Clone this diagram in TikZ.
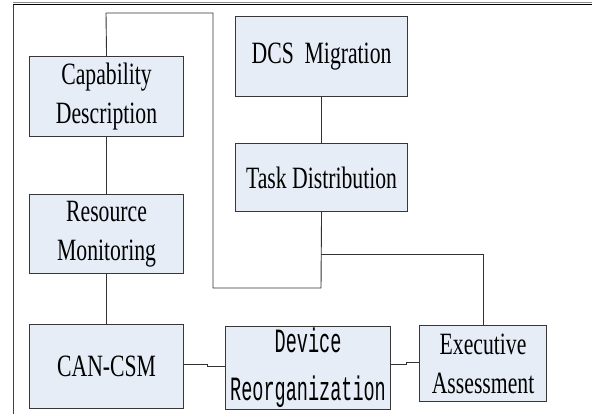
\documentclass[tikz,border=0pt]{standalone}
\usepackage{fontspec}
\setmainfont[FakeStretch=0.70]{Liberation Serif}
\newfontfamily\widemono[FakeStretch=0.545]{Liberation Mono}
\definecolor{boxfill}{RGB}{230,237,247}
\definecolor{boxline}{RGB}{55,55,55}
\definecolor{wire}{RGB}{50,50,50}
\begin{document}
\begin{tikzpicture}[x=1pt,y=-1pt,
  block/.style={draw=boxline,fill=boxfill,line width=1.1pt,inner sep=0pt,
    align=center,font=\fontsize{31}{39}\selectfont},
  monoblock/.style={block,font=\widemono\fontsize{34}{48}\selectfont},
  wireline/.style={draw=wire,line width=0.9pt}]
\useasboundingbox (0,0) rectangle (592,414);

% outer frame: left and top edges only
\draw[draw=black!75,line width=1pt] (13,414) -- (13,4);
\draw[draw=black!45,line width=1pt] (13,3) -- (592,3);
\draw[draw=black,line width=1.2pt] (13,4.5) -- (592,4.5);

% blocks, placed by their corners
\newcommand{\blk}[7][block]{%
  \node[#1,minimum width=#5-#3,minimum height=#6-#4,anchor=north west]
    (#2) at (#3,#4) {#7};}
\blk{cap}{29}{56}{183}{136}{Capability\\Description}
\blk{res}{29}{194}{183}{273}{Resource\\Monitoring}
\blk{can}{29}{324}{183}{408}{CAN-CSM}
\blk[monoblock]{dev}{225}{326}{390}{409}{Device\\Reorganization}
\blk{exe}{419}{325}{546}{401}{Executive\\Assessment}
\blk{dcs}{235}{16}{407}{96}{DCS~~Migration}
\blk{task}{235}{143}{407}{211}{Task Distribution}

% connectors
\coordinate (tl) at (106,13);
\coordinate (tr) at (213,13);
\coordinate (br) at (213,288);
\coordinate (bm) at (321,288);
\coordinate (fork) at (321,254);
\coordinate (er) at (483,254);

\path[wireline] (cap.north) -- (tl) -- (tr) -- (br) -- (bm) -- (task.south);
\path[wireline] (dcs.south) -- (task.north);
\path[wireline] (fork) -- (er) -- (er |- exe.north);
\path[wireline] (cap.south) -- (res.north);
\path[wireline] (res.south) -- (can.north);
\path[wireline] (can.east |- 0,364) -- (207,364) -- (207,366) -- (dev.west |- 0,366);
\path[wireline] (dev.east |- 0,364) -- (406,364) -- (406,362) -- (exe.west |- 0,362);
\end{tikzpicture}
\end{document}
